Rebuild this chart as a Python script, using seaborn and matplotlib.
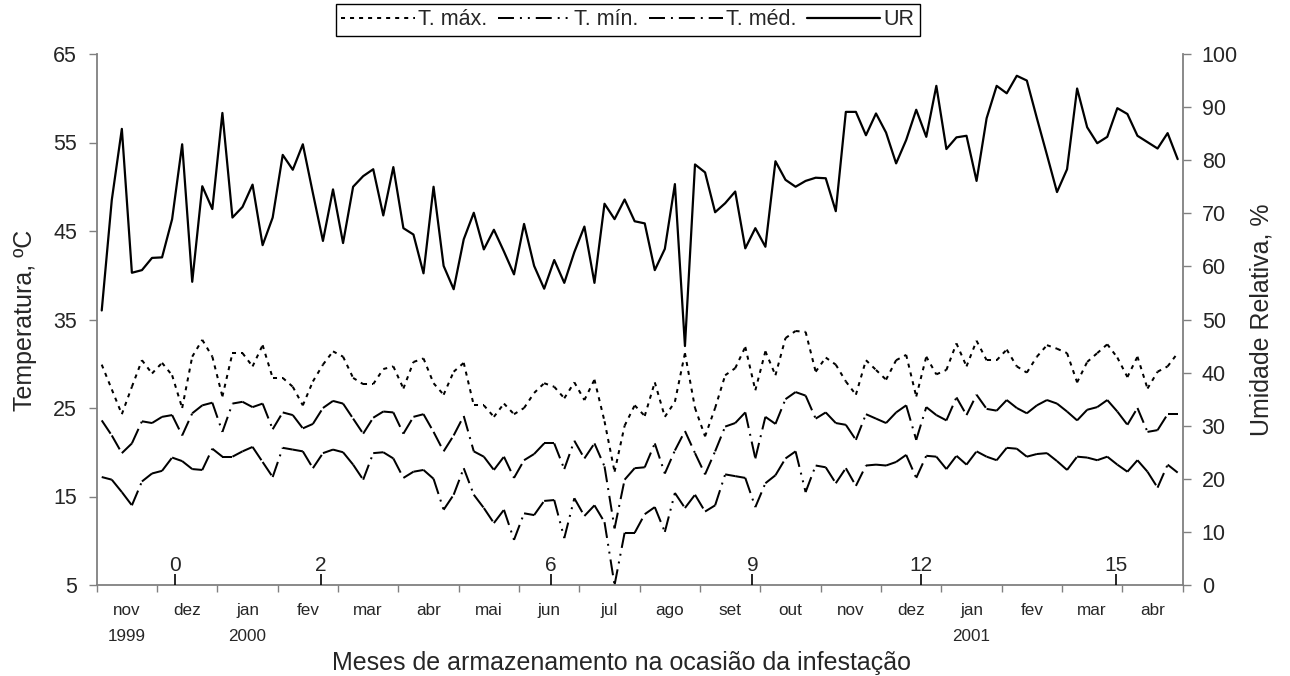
import numpy as np
import pandas as pd
import seaborn as sns
import matplotlib.pyplot as plt
from matplotlib.lines import Line2D
from matplotlib import transforms

# pentad values (6 per month), nov 1999 .. abr 2001
ur = [51.7, 72.5, 85.9, 58.8, 59.3, 61.6, 61.7, 68.9, 83.0, 57.1,
      75.1, 70.8, 88.9, 69.2, 71.2, 75.4, 64.0, 69.2, 81.0, 78.2,
      83.0, 73.8, 64.8, 74.5, 64.4, 75.0, 77.0, 78.3, 69.6, 78.7,
      67.2, 66.0, 58.7, 75.0, 60.1, 55.7, 65.1, 70.1, 63.2, 66.9,
      62.8, 58.5, 68.0, 60.1, 55.8, 61.2, 56.9, 62.7, 67.5, 56.9,
      71.8, 68.9, 72.6, 68.5, 68.1, 59.3, 63.3, 75.5, 45.0, 79.2,
      77.7, 70.2, 71.9, 74.1, 63.4, 67.2, 63.7, 79.8, 76.3, 75.0,
      76.1, 76.7, 76.6, 70.4, 89.1, 89.1, 84.7, 88.8, 85.2, 79.4,
      83.8, 89.5, 84.4, 94.0, 82.1, 84.3, 84.6, 76.1, 87.9, 94.0,
      92.6, 95.9, 95.0, 87.9, 81.0, 74.0, 78.3, 93.5, 86.2, 83.2,
      84.4, 89.8, 88.7, 84.6, 83.4, 82.2, 85.1, 80.2]

t_max = [29.9, 27.1, 24.3, 27.4, 30.4, 28.9, 30.1, 28.7, 25.0, 30.8,
         32.7, 30.8, 26.3, 31.2, 31.2, 29.7, 32.1, 28.4, 28.4, 27.4,
         25.3, 28.0, 29.9, 31.4, 30.8, 28.4, 27.7, 27.7, 29.4, 29.7,
         27.2, 30.2, 30.6, 27.8, 26.5, 29.1, 30.1, 25.3, 25.3, 24.0,
         25.5, 24.3, 25.0, 26.7, 27.8, 27.4, 26.1, 27.9, 25.9, 28.2,
         23.5, 17.8, 23.0, 25.3, 24.1, 27.9, 24.0, 25.7, 31.2, 25.0,
         21.8, 25.0, 28.7, 29.5, 31.9, 27.0, 31.4, 28.7, 32.9, 33.7,
         33.6, 29.1, 30.7, 29.9, 28.0, 26.5, 30.4, 29.3, 28.2, 30.4,
         31.0, 26.3, 30.8, 28.8, 29.3, 32.3, 29.7, 32.6, 30.4, 30.4,
         31.6, 29.7, 29.0, 30.8, 32.1, 31.7, 31.2, 27.9, 30.2, 31.2,
         32.2, 30.7, 28.5, 30.8, 27.2, 29.1, 29.7, 31.2]

t_med = [23.6, 21.9, 19.9, 21.0, 23.5, 23.3, 24.0, 24.2, 21.9, 24.4,
         25.3, 25.6, 22.3, 25.5, 25.7, 25.1, 25.5, 22.6, 24.5, 24.2,
         22.7, 23.2, 25.0, 25.8, 25.5, 23.8, 22.1, 23.9, 24.6, 24.5,
         22.1, 24.0, 24.3, 22.3, 20.1, 21.9, 24.1, 20.1, 19.5, 18.0,
         19.5, 17.1, 19.1, 19.8, 21.0, 21.0, 18.1, 21.3, 19.3, 21.0,
         18.4, 11.4, 16.9, 18.2, 18.3, 21.0, 17.6, 20.2, 22.4, 19.9,
         17.5, 20.1, 22.9, 23.3, 24.5, 19.3, 24.0, 23.2, 26.0, 26.8,
         26.4, 23.8, 24.5, 23.3, 23.1, 21.4, 24.3, 23.8, 23.3, 24.5,
         25.3, 21.4, 25.1, 24.2, 23.6, 26.2, 24.2, 26.5, 24.9, 24.7,
         25.9, 25.0, 24.4, 25.3, 25.9, 25.5, 24.6, 23.6, 24.8, 25.1,
         25.9, 24.6, 23.1, 25.0, 22.3, 22.5, 24.3, 24.3]

t_min = [17.2, 16.9, 15.5, 14.0, 16.7, 17.6, 17.9, 19.4, 19.0, 18.1,
         18.0, 20.4, 19.5, 19.5, 20.1, 20.6, 18.9, 17.2, 20.5, 20.3,
         20.1, 18.2, 19.9, 20.3, 20.0, 18.6, 16.9, 19.9, 20.0, 19.3,
         17.1, 17.8, 18.0, 17.0, 13.5, 15.2, 18.2, 15.2, 13.7, 12.0,
         13.5, 10.1, 13.1, 12.9, 14.5, 14.6, 10.3, 14.8, 12.8, 14.0,
         12.1, 5.0, 10.9, 10.9, 13.0, 13.8, 11.0, 15.4, 13.7, 15.2,
         13.3, 14.0, 17.5, 17.3, 17.1, 13.8, 16.5, 17.4, 19.3, 20.1,
         15.5, 18.5, 18.3, 16.5, 18.2, 16.2, 18.5, 18.6, 18.5, 18.9,
         19.7, 17.1, 19.6, 19.5, 18.1, 19.6, 18.6, 20.1, 19.5, 19.1,
         20.5, 20.4, 19.5, 19.8, 19.9, 19.0, 18.0, 19.5, 19.4, 19.1,
         19.5, 18.6, 17.8, 19.1, 17.8, 16.0, 18.6, 17.7]

months = ["nov\n1999", "dez", "jan\n2000", "fev", "mar", "abr", "mai", "jun",
          "jul", "ago", "set", "out", "nov", "dez", "jan\n2001", "fev", "mar", "abr"]

# storage months (second scale drawn on the x axis)
storage_lbl = ["0", "2", "6", "9", "12", "15"]
storage_pos = [7.3, 21.8, 44.7, 64.7, 81.5, 100.9]

series_names = ["T. máx.", "T. mín.", "T. méd.", "UR"]

sns.set_style("ticks")
plt.rcParams["font.family"] = ["Liberation Sans", "DejaVu Sans"]
plt.rcParams["lines.scale_dashes"] = False

gray = "#808080"
dot_ls = (0, (2.9, 3.6))
dashdot_ls = (0, (11.5, 4.3, 1.4, 4.3))
dashdotdot_ls = (0, (11.5, 4.3, 1.4, 4.3, 1.4, 4.3))


def segments(vals):
    # one unit per pair of neighbours -> dash pattern restarts on every segment
    rows = []
    for k in range(len(vals) - 1):
        rows.append((k, k, vals[k]))
        rows.append((k, k + 1, vals[k + 1]))
    return pd.DataFrame(rows, columns=["seg", "x", "y"])


n = len(ur)
idx = np.arange(n)

fig = plt.figure(figsize=(12.9, 6.76), dpi=100)
ax = fig.add_axes([96.7 / 1290, 1 - 585 / 676, 1086 / 1290, 531 / 676])
ax2 = ax.twinx()
ax3 = ax.twiny()

for vals, ls in [(t_max, dot_ls), (t_min, dashdotdot_ls), (t_med, dashdot_ls)]:
    sns.lineplot(data=segments(vals), x="x", y="y", units="seg", estimator=None,
                 ax=ax, color="black", lw=1.45, linestyle=ls)

sns.lineplot(x=idx, y=ur, ax=ax2, color="black", lw=1.6)

# axes
ax.set_xlim(-0.5, n - 0.5)
ax.set_ylim(5, 65)
ax.set_yticks(range(5, 66, 10))
ax.set_xticks(np.arange(-0.5, n, 6))
ax.set_xticks(np.arange(2.5, n, 6), labels=months, minor=True)
ax.tick_params(axis="x", which="major", length=5, width=1, color=gray,
               labelbottom=False)
ax.tick_params(axis="x", which="minor", length=0, pad=12.8, labelsize=12.3)
for t in ax.get_xticklabels(minor=True):
    t.set_linespacing(1.95)
ax.tick_params(axis="y", length=5.8, width=1, color=gray, labelsize=15.5, pad=8.4)
ax.set_xlabel("")
ax.set_ylabel("")
for s in ["left", "bottom"]:
    ax.spines[s].set_color(gray)
    ax.spines[s].set_linewidth(1.3)
for s in ["top", "right"]:
    ax.spines[s].set_visible(False)

ax2.set_ylim(0, 100)
ax2.set_yticks(range(0, 101, 10))
ax2.tick_params(axis="y", length=5.8, width=1, color=gray, labelsize=15.5, pad=7.9)
ax2.set_ylabel("")
for s in ["left", "bottom", "top"]:
    ax2.spines[s].set_visible(False)
ax2.spines["right"].set_color(gray)
ax2.spines["right"].set_linewidth(1.3)

ax3.set_xlim(ax.get_xlim())
ax3.xaxis.set_ticks_position("bottom")
ax3.set_xticks(storage_pos)
ax3.tick_params(axis="x", direction="in", length=8, width=1.2, color="black",
                labelbottom=False, labeltop=False, top=False)
for s in ax3.spines.values():
    s.set_visible(False)

trans = transforms.blended_transform_factory(ax.transData, ax.transAxes)
for pos, lbl in zip(storage_pos, storage_lbl):
    ax.annotate(lbl, xy=(pos, 0), xycoords=trans, xytext=(0, 10.3),
                textcoords="offset points", ha="center", va="baseline",
                fontsize=15)

handles = [Line2D([], [], color="black", lw=1.45, linestyle=dot_ls),
           Line2D([], [], color="black", lw=1.45, linestyle=dashdotdot_ls),
           Line2D([], [], color="black", lw=1.45, linestyle=dashdot_ls),
           Line2D([], [], color="black", lw=1.6)]
leg = fig.legend(handles, series_names, loc="upper center",
                 bbox_to_anchor=(628 / 1290, 1 - 4 / 676), ncol=4, fontsize=15.5,
                 frameon=True, fancybox=False, edgecolor="black", framealpha=1,
                 handlelength=3.4, handletextpad=0.15, columnspacing=0.5,
                 borderpad=0.25, borderaxespad=0)
leg.get_frame().set_linewidth(1.0)

fig.text(25 / 1290, 1 - 320 / 676, "Temperatura, ºC", rotation=90,
         ha="center", va="center", fontsize=18)
fig.text(1262 / 1290, 1 - 320 / 676, "Umidade Relativa, %", rotation=90,
         ha="center", va="center", fontsize=18)
fig.text(621 / 1290, 1 - 663 / 676, "Meses de armazenamento na ocasião da infestação",
         ha="center", va="center", fontsize=18)

fig.savefig("out.png", dpi=100)
